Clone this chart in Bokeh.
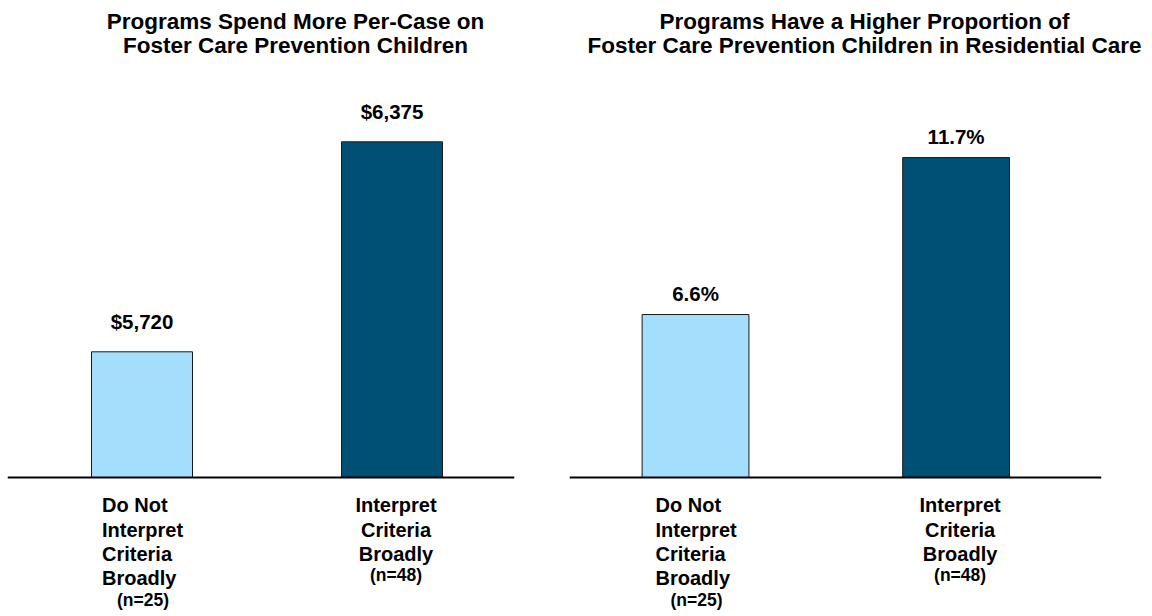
import numpy as np
from bokeh.plotting import figure
from bokeh.models import ColumnDataSource, Range1d, Span
from bokeh.layouts import row, column
from bokeh.embed import file_html
from bokeh.resources import INLINE
from bokeh.core.properties import value

# ---------------- data ----------------
categories = ["Do Not\nInterpret\nCriteria\nBroadly", "Interpret\nCriteria\nBroadly"]
sample_sizes = [25, 48]
spend_per_case = [5720, 6375]
residential_pct = [6.6, 11.7]
spend_labels = ["$5,720", "$6,375"]
pct_labels = ["6.6%", "11.7%"]
titles = [
    "Programs Spend More Per-Case on\nFoster Care Prevention Children",
    "Programs Have a Higher Proportion of\nFoster Care Prevention Children in Residential Care",
]

# ---------------- style ----------------
bar_colors = ["#A3DEFD", "#004F75"]
FONT = "Liberation Sans"
label_align = ["left", "center"]
label_dx = [-40, 4]
CAT_SIZE = 20
TOTAL_H = 616
TITLE_H = 62


def make_panel(values, vlabels, width, border_left, frame_w, xr, yr, base, bar_w, gap):
    p = figure(width=width, height=TOTAL_H - TITLE_H, x_range=Range1d(*xr), y_range=Range1d(*yr),
               output_backend="svg", toolbar_location=None,
               x_axis_location=None, y_axis_location=None,
               min_border_left=border_left, min_border_right=width - border_left - frame_w,
               min_border_top=0, min_border_bottom=0)
    p.grid.visible = False
    p.outline_line_color = None
    p.background_fill_color = "white"
    p.border_fill_color = "white"

    x = np.arange(len(values))
    src = ColumnDataSource(dict(x=x, top=values, color=bar_colors, vlabel=vlabels))

    p.add_layout(Span(location=base, dimension="width", line_color="black", line_width=2))
    p.vbar(x="x", top="top", bottom=base, width=bar_w, fill_color="color",
           line_color="#1a1a1a", line_width=1, source=src)

    p.text(x="x", y="top", text="vlabel", source=src, text_align="center",
           text_baseline="middle", y_offset=-gap, text_font=value(FONT),
           text_font_style="bold", text_font_size="20.5px", text_color="black")

    for i, cat in enumerate(categories):
        nlines = cat.count("\n") + 1
        s = ColumnDataSource(dict(x=[x[i]], y=[base], t=[cat], n=[f"(n={sample_sizes[i]})"]))
        p.text(x="x", y="y", text="t", source=s, text_align=label_align[i],
               text_baseline="top", x_offset=label_dx[i], y_offset=17,
               text_line_height=1.1, text_font=value(FONT),
               text_font_style="bold", text_font_size=f"{CAT_SIZE}px", text_color="black")
        p.text(x="x", y="y", text="n", source=s, text_align="center",
               text_baseline="top", x_offset=1 if i == 0 else label_dx[i],
               y_offset=13 + nlines * 25,
               text_font=value(FONT), text_font_style="bold", text_font_size="17.5px",
               text_color="black")
    return p


# title strip (pixel coordinates, y downward)
tp = figure(width=1152, height=TITLE_H, x_range=Range1d(0, 1152), y_range=Range1d(TITLE_H, 0),
            output_backend="svg", toolbar_location=None,
            x_axis_location=None, y_axis_location=None,
            min_border_left=0, min_border_right=0, min_border_top=0, min_border_bottom=0)
tp.grid.visible = False
tp.outline_line_color = None
tp.text(x=[295, 864], y=[8, 8], text=titles, text_align="center", text_baseline="top",
        text_font=value(FONT), text_font_style="bold", text_font_size="22.5px",
        text_line_height=0.97, text_color="black")

left = make_panel(spend_per_case, spend_labels, width=563, border_left=7, frame_w=507,
                  xr=(-0.538, 1.490), yr=(4894.4, 6622.4), base=5328, bar_w=0.404, gap=30)
right = make_panel(residential_pct, pct_labels, width=589, border_left=6, frame_w=532,
                   xr=(-0.4837, 1.558), yr=(-3.211, 14.788), base=1.305, bar_w=0.41, gap=21)

layout = column(tp, row(left, right))
open("out.html", "w").write(file_html(layout, INLINE))
